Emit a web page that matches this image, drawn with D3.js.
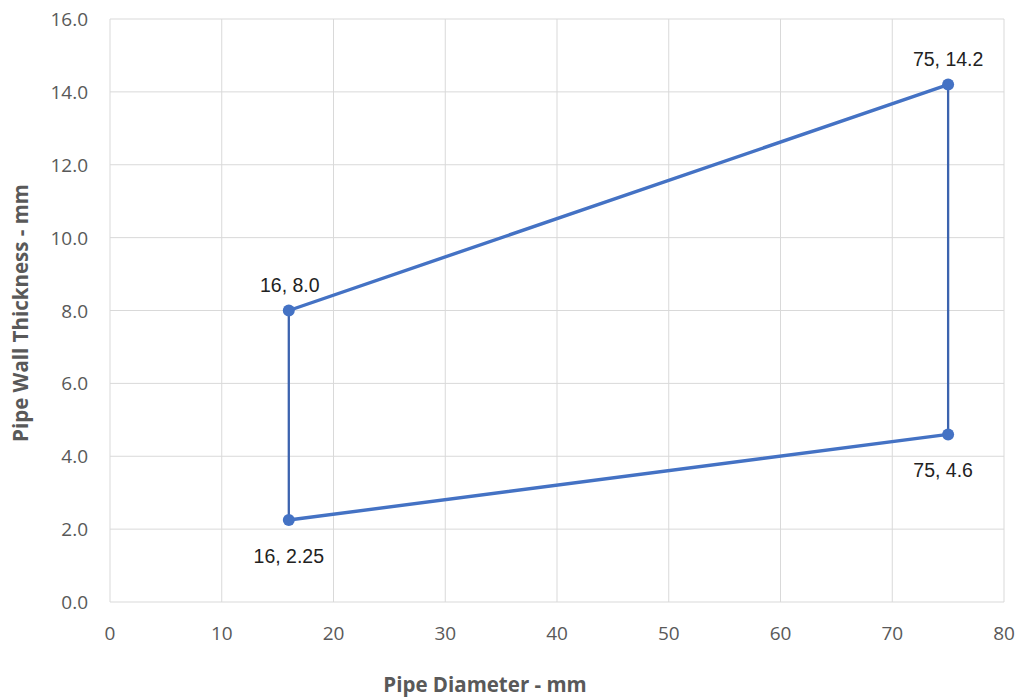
<!DOCTYPE html>
<html>
<head>
<meta charset="utf-8">
<script src="https://cdn.jsdelivr.net/npm/d3@7"></script>
<style>
  body { margin: 0; background: #fff; }
  svg { display: block; }
</style>
</head>
<body>
<svg id="chart" width="1023" height="700"></svg>
<script>
// data
const diameters = [16, 75];
const upperThickness = [8.0, 14.2];
const lowerThickness = [2.25, 4.6];
const upperLabels = ['16, 8.0', '75, 14.2'];
const lowerLabels = ['16, 2.25', '75, 4.6'];
const xTicks = [0, 10, 20, 30, 40, 50, 60, 70, 80];
const yTicks = [0, 2, 4, 6, 8, 10, 12, 14, 16];

const svg = d3.select('#chart');
const plotLeft = 110, plotRight = 1004, plotTop = 19, plotBottom = 602;

const x = d3.scaleLinear().domain([0, 80]).range([plotLeft, plotRight]);
const y = d3.scaleLinear().domain([0, 16]).range([plotBottom, plotTop]);

const tickFont = "'Open Sans', 'Liberation Sans', sans-serif";

// gridlines
svg.append('g').selectAll('line').data(yTicks).enter()
  .append('line')
  .attr('x1', plotLeft).attr('x2', plotRight)
  .attr('y1', (d) => y(d)).attr('y2', (d) => y(d))
  .attr('stroke', '#d9d9d9').attr('stroke-width', 1);

svg.append('g').selectAll('line').data(xTicks).enter()
  .append('line')
  .attr('x1', (d) => x(d)).attr('x2', (d) => x(d))
  .attr('y1', plotTop).attr('y2', plotBottom)
  .attr('stroke', '#d9d9d9').attr('stroke-width', 1);

// tick labels
svg.append('g').selectAll('text').data(yTicks).enter()
  .append('text')
  .attr('x', plotLeft - 22)
  .attr('y', (d) => y(d) + 7)
  .attr('text-anchor', 'end')
  .attr('font-family', tickFont)
  .attr('font-size', '19px')
  .attr('fill', '#595959')
  .text((d) => d.toFixed(1));

svg.append('g').selectAll('text').data(xTicks).enter()
  .append('text')
  .attr('x', (d) => x(d))
  .attr('y', plotBottom + 38)
  .attr('text-anchor', 'middle')
  .attr('font-family', tickFont)
  .attr('font-size', '19px')
  .attr('fill', '#595959')
  .text((d) => d);

// axis titles
svg.append('text')
  .attr('x', 485).attr('y', 692)
  .attr('text-anchor', 'middle')
  .attr('font-family', tickFont)
  .attr('font-weight', 'bold')
  .attr('font-size', '20.5px')
  .attr('fill', '#595959')
  .text('Pipe Diameter - mm');

svg.append('text')
  .attr('transform', 'translate(28,313) rotate(-90)')
  .attr('text-anchor', 'middle')
  .attr('font-family', tickFont)
  .attr('font-weight', 'bold')
  .attr('font-size', '20.5px')
  .attr('fill', '#595959')
  .text('Pipe Wall Thickness - mm');

// vertical connectors
const verticals = diameters.map((d, i) => [[d, lowerThickness[i]], [d, upperThickness[i]]]);
const line = d3.line().x((d) => x(d[0])).y((d) => y(d[1]));

svg.append('g').selectAll('path').data(verticals).enter()
  .append('path')
  .attr('d', line)
  .attr('fill', 'none')
  .attr('stroke', '#3c63ae')
  .attr('stroke-width', 2.3);

// sloped series
const upper = diameters.map((d, i) => [d, upperThickness[i]]);
const lower = diameters.map((d, i) => [d, lowerThickness[i]]);

[upper, lower].forEach((series) => {
  svg.append('path')
    .datum(series)
    .attr('d', line)
    .attr('fill', 'none')
    .attr('stroke', '#4472c4')
    .attr('stroke-width', 3.4)
    .attr('stroke-linecap', 'round');

  svg.append('g').selectAll('circle').data(series).enter()
    .append('circle')
    .attr('cx', (d) => x(d[0]))
    .attr('cy', (d) => y(d[1]))
    .attr('r', 6)
    .attr('fill', '#4472c4');
});

// data labels
const labelFont = "'Liberation Sans', Arial, sans-serif";
const upperDx = [1, 0], lowerDx = [0, -5];
svg.append('g').selectAll('text').data(upper).enter()
  .append('text')
  .attr('x', (d, i) => x(d[0]) + upperDx[i])
  .attr('y', (d) => y(d[1]) - 19)
  .attr('text-anchor', 'middle')
  .attr('font-family', labelFont)
  .attr('font-size', '19.5px')
  .attr('fill', '#222')
  .text((d, i) => upperLabels[i]);

svg.append('g').selectAll('text').data(lower).enter()
  .append('text')
  .attr('x', (d, i) => x(d[0]) + lowerDx[i])
  .attr('y', (d) => y(d[1]) + 43)
  .attr('text-anchor', 'middle')
  .attr('font-family', labelFont)
  .attr('font-size', '19.5px')
  .attr('fill', '#222')
  .text((d, i) => lowerLabels[i]);
</script>
</body>
</html>
